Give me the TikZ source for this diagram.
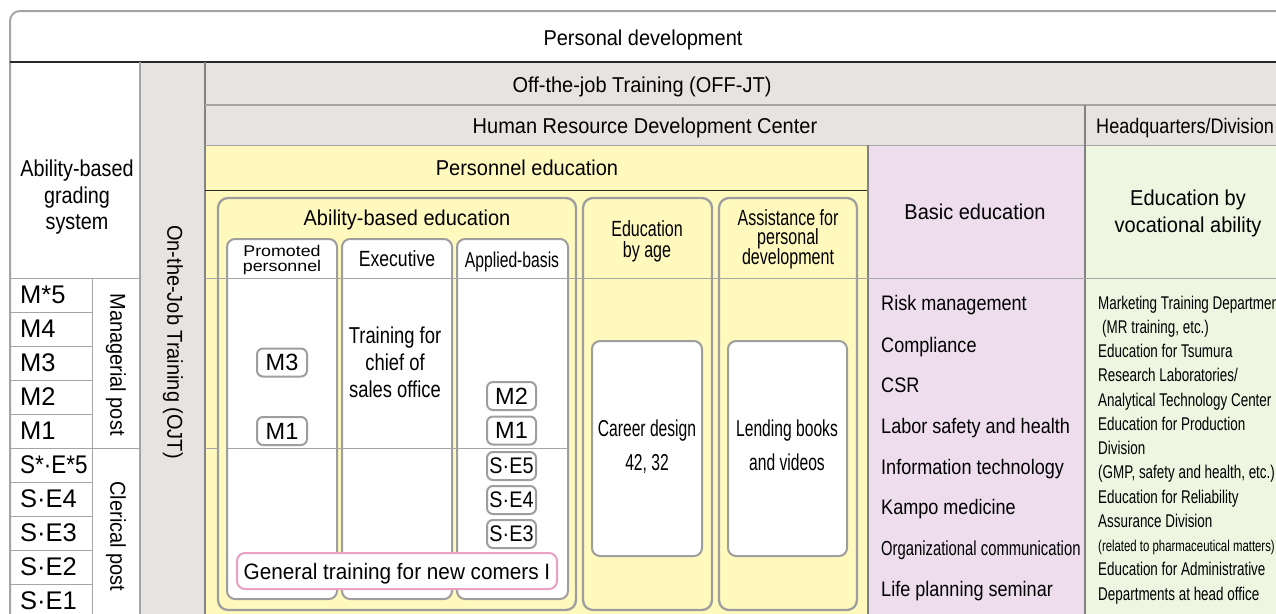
\documentclass[tikz,border=0pt]{standalone}
\usepackage{fontspec}
\setmainfont{Liberation Sans}
\newfontfamily\fR[FakeStretch=0.93]{Liberation Sans}
\newfontfamily\fQ[FakeStretch=0.86]{Liberation Sans}
\newfontfamily\fC[FakeStretch=0.80]{Liberation Sans}
\newfontfamily\fK[FakeStretch=0.68]{Liberation Sans}
\newfontfamily\fV[FakeStretch=0.73]{Liberation Sans}
\newfontfamily\fW[FakeStretch=1.15]{Liberation Sans}
\newfontfamily\fM[FakeStretch=1.0]{Liberation Sans}
\newfontfamily\fS[FakeStretch=0.88]{Liberation Sans}
\newcommand\FS[1]{\fontsize{#1}{#1}\selectfont}
\definecolor{gfill}{RGB}{230,227,224}
\definecolor{yfill}{RGB}{255,249,190}
\definecolor{pfill}{RGB}{237,221,237}
\definecolor{grfill}{RGB}{238,245,225}
\definecolor{lineg}{RGB}{165,165,165}
\definecolor{lined}{RGB}{130,130,130}
\definecolor{boxg}{RGB}{158,158,158}
\definecolor{pinkl}{RGB}{235,160,195}
\definecolor{darkl}{RGB}{40,40,40}
\tikzset{
  lbl/.style={anchor=base, inner sep=0pt},
  lblw/.style={anchor=base west, inner sep=0pt},
  bigbox/.style={draw=boxg, line width=2.3pt, rounded corners=10pt, fill=yfill},
  subcol/.style={draw=boxg, line width=2pt, rounded corners=8pt, fill=white},
  gradebox/.style={draw=boxg, line width=2pt, rounded corners=6pt, fill=white, minimum width=50pt, minimum height=28pt, inner sep=0pt},
  thinl/.style={draw=lineg, line width=1pt},
}
\begin{document}
\begin{tikzpicture}[x=1pt,y=-1pt]
\useasboundingbox (0,0) rectangle (1276,613);
% background fills
\fill[white] (0,0) rectangle (1276,613);
\fill[gfill] (140,62) rectangle (205,640);
\fill[gfill] (205,62) rectangle (1300,145);
\fill[yfill] (205,145) rectangle (868,640);
\fill[pfill] (868,145) rectangle (1085,640);
\fill[grfill] (1085,145) rectangle (1300,640);
% outer frame
\draw[draw=lineg, line width=2pt, rounded corners=10pt] (1320,640) -- (10,640) -- (10,11) -- (1320,11);
% main grid lines
\draw[draw=darkl, line width=1.2pt] (10,62) -- (1300,62);
\draw[draw=lineg, line width=1.5pt] (140,62) -- (140,640);
\draw[draw=lined, line width=2pt] (205,62) -- (205,640);
\draw[draw=lineg, line width=2pt] (205,105) -- (1300,105);
\draw[draw=lineg, line width=1pt] (205,145) -- (1300,145);
\draw[draw=darkl, line width=1pt] (205,190) -- (868,190);
\draw[draw=lined, line width=2pt] (868,145) -- (868,640);
\draw[draw=lined, line width=1.5pt] (1085,105) -- (1085,640);
% grade table
\draw[thinl] (10,278) -- (140,278);
\draw[thinl] (92,278) -- (92,640);
\foreach \yy in {312,346,380,414,482,516,550,584} { \draw[thinl] (10,\yy) -- (92,\yy); }
\draw[thinl] (10,448) -- (140,448);
% big boxes
\draw[bigbox] (218,198) rectangle (576,610);
\draw[subcol] (227,239) rectangle (337,599);
\draw[subcol] (342,239) rectangle (452,599);
\draw[subcol] (457,239) rectangle (568,599);
\draw[bigbox] (583,198) rectangle (712,610);
\draw[bigbox] (719,198) rectangle (857,610);
% horizontal guide lines
\draw[thinl] (205,278) -- (1300,278);
\draw[thinl] (205,448) -- (218,448);
\draw[thinl] (227,448) -- (568,448);
% inner white boxes
\draw[subcol] (592,341) rectangle (702,556);
\draw[subcol] (728,341) rectangle (847,556);
\draw[draw=pinkl, line width=2pt, rounded corners=8pt, fill=white] (237,553) rectangle (557,589);
% small grade boxes
\node[gradebox] (pm3) at (282,362.5) {\fM\FS{23.5}M3};
\node[gradebox] (pm1) at (282,431) {\fM\FS{23.5}M1};
\node[gradebox, minimum width=49pt] (am2) at (511.5,396) {\fM\FS{23.5}M2};
\node[gradebox, minimum width=49pt] (am1) at (511.5,430.5) {\fM\FS{23.5}M1};
\node[gradebox, minimum width=49pt] (ase5) at (511.5,466) {\fS\FS{22.5}S·E5};
\node[gradebox, minimum width=49pt] (ase4) at (511.5,500) {\fS\FS{22.5}S·E4};
\node[gradebox, minimum width=49pt] (ase3) at (511.5,534) {\fS\FS{22.5}S·E3};
% header texts
\node[lbl] (title) at (643,45) {\fR\FS{21.5}Personal development};
\node[lbl] (offjt) at (642,92.5) {\fR\FS{21.5}Off-the-job Training (OFF-JT)};
\node[lbl] (hrdc) at (645,133.5) {\fR\FS{21.5}Human Resource Development Center};
\node[lblw] (hq) at (1096,133.5) {\fQ\FS{21}Headquarters/Division};
\node[lbl] (pered) at (527,175) {\fR\FS{21.5}Personnel education};
\node[lbl] (abed) at (407,225) {\fR\FS{21.5}Ability-based education};
\node[lbl] (abg1) at (77,176) {\fQ\FS{23}Ability-based};
\node[lbl] (abg2) at (77,203) {\fQ\FS{23}grading};
\node[lbl] (abg3) at (77,229) {\fQ\FS{23}system};
\node[rotate=-90, inner sep=0pt] (ojt) at (173,342) {\fR\FS{21.5}On-the-Job Training (OJT)};
\node[rotate=-90, inner sep=0pt] (mgr) at (116,364.5) {\fR\FS{21.5}Managerial post};
\node[rotate=-90, inner sep=0pt] (cler) at (116,536.5) {\fR\FS{21.5}Clerical post};
% grade labels
\node[lblw] (g1) at (20,303) {\fM\FS{25.5}M*5};
\node[lblw] (g2) at (20,337) {\fM\FS{25.5}M4};
\node[lblw] (g3) at (20,371) {\fM\FS{25.5}M3};
\node[lblw] (g4) at (20,405) {\fM\FS{25.5}M2};
\node[lblw] (g5) at (20,439) {\fM\FS{25.5}M1};
\node[lblw] (g6) at (20,473) {\fS\FS{25.5}S*·E*5};
\node[lblw] (g7) at (20,507) {\fM\FS{25.5}S·E4};
\node[lblw] (g8) at (20,541) {\fM\FS{25.5}S·E3};
\node[lblw] (g9) at (20,575) {\fM\FS{25.5}S·E2};
\node[lblw] (g10) at (20,609) {\fM\FS{25.5}S·E1};
% sub column headers
\node[lbl] (pp1) at (282,256) {\fW\FS{15.5}Promoted};
\node[lbl] (pp2) at (282,271.5) {\fW\FS{15.5}personnel};
\node[lbl] (exec) at (397,266) {\fC\FS{22}Executive};
\node[lbl] (appl) at (512,267) {\fV\FS{21.5}Applied-basis};
\node[lbl] (eba1) at (647,236) {\fV\FS{22}Education};
\node[lbl] (eba2) at (647,257) {\fV\FS{22}by age};
\node[lbl] (asp1) at (788,225) {\fV\FS{22}Assistance for};
\node[lbl] (asp2) at (788,244.5) {\fV\FS{22}personal};
\node[lbl] (asp3) at (788,264) {\fV\FS{22}development};
\node[lbl] (tc1) at (395,343) {\fC\FS{23}Training for};
\node[lbl] (tc2) at (395,370) {\fC\FS{23}chief of};
\node[lbl] (tc3) at (395,397) {\fC\FS{23}sales office};
\node[lbl] (cd1) at (647,436) {\fK\FS{23}Career design};
\node[lbl] (cd2) at (647,470.5) {\fK\FS{23}42, 32};
\node[lbl] (lb1) at (787,436) {\fK\FS{23}Lending books};
\node[lbl] (lb2) at (787,470.5) {\fK\FS{23}and videos};
\node[lbl] (gen) at (397,579) {\fR\FS{22.3}General training for new comers I};
% basic education
\node[lbl] (basic) at (975,219.5) {\fR\FS{21.5}Basic education};
\node[lblw] (b1) at (881,310) {\fQ\FS{21}Risk management};
\node[lblw] (b2) at (881,352) {\fQ\FS{21}Compliance};
\node[lblw] (b3) at (881,392) {\fQ\FS{21}CSR};
\node[lblw] (b4) at (881,433) {\fQ\FS{21}Labor safety and health};
\node[lblw] (b5) at (881,474) {\fQ\FS{21}Information technology};
\node[lblw] (b6) at (881,514) {\fQ\FS{21}Kampo medicine};
\node[lblw] (b7) at (881,555) {\fV\FS{20.3}Organizational communication};
\node[lblw] (b8) at (881,596) {\fQ\FS{21}Life planning seminar};
% vocational
\node[lbl] (voc1) at (1188,205.5) {\fR\FS{21.5}Education by};
\node[lbl] (voc2) at (1188,232) {\fR\FS{21.5}vocational ability};
\node[lblw] (v1) at (1098,309) {\fV\FS{18.4}Marketing Training Department};
\node[lblw] (v2) at (1102,333.25) {\fV\FS{18.4}(MR training, etc.)};
\node[lblw] (v3) at (1098,357.5) {\fV\FS{18.4}Education for Tsumura};
\node[lblw] (v4) at (1098,381.75) {\fV\FS{18.4}Research Laboratories/};
\node[lblw] (v5) at (1098,406) {\fV\FS{18.4}Analytical Technology Center};
\node[lblw] (v6) at (1098,430.25) {\fV\FS{18.4}Education for Production};
\node[lblw] (v7) at (1098,454.5) {\fV\FS{18.4}Division};
\node[lblw] (v8) at (1098,478.75) {\fV\FS{18.4}(GMP, safety and health, etc.)};
\node[lblw] (v9) at (1098,503) {\fV\FS{18.4}Education for Reliability};
\node[lblw] (v10) at (1098,527.25) {\fV\FS{18.4}Assurance Division};
\node[lblw] (v11) at (1098,551.5) {\fV\FS{15.6}(related to pharmaceutical matters)};
\node[lblw] (v12) at (1098,575.75) {\fV\FS{18.4}Education for Administrative};
\node[lblw] (v13) at (1098,600) {\fV\FS{18.4}Departments at head office};
\end{tikzpicture}
\end{document}
